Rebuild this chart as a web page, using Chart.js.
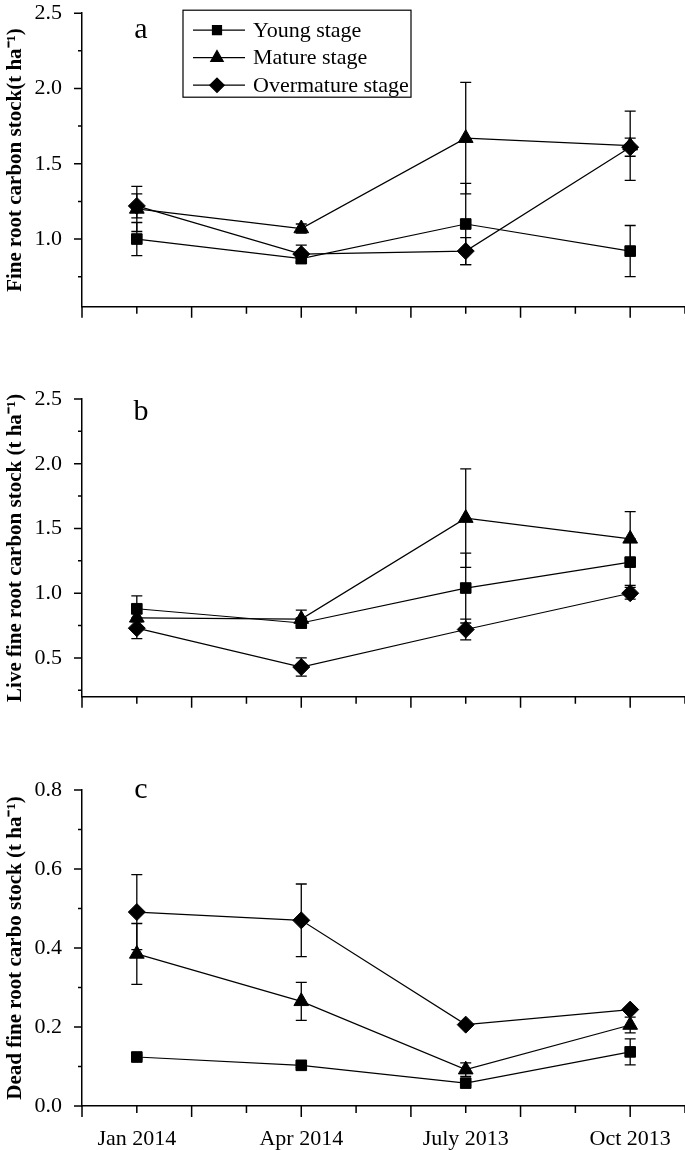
<!DOCTYPE html>
<html>
<head>
<meta charset="utf-8">
<script src="https://cdn.jsdelivr.net/npm/chart.js@4.4.1/dist/chart.umd.min.js"></script>
<style>
  html, body { margin: 0; padding: 0; background: #fff; width: 685px; height: 1150px; overflow: hidden; position: relative; }
  .panel { position: absolute; left: 0; width: 705px; }
</style>
</head>
<body>
<div class="panel" style="top:-20px;height:360px"><canvas id="chartA"></canvas></div>
<div class="panel" style="top:360px;height:370px"><canvas id="chartB"></canvas></div>
<div class="panel" style="top:740px;height:410px"><canvas id="chartC"></canvas></div>
<script>
// sampling dates and where they sit on the x axis
var categories = ['Jan 2014', 'Apr 2014', 'July 2013', 'Oct 2013'];
var xPositions = [1, 4, 7, 10];
var seriesNames = ['Young stage', 'Mature stage', 'Overmature stage'];

// a - fine root carbon stock (t ha-1)
var youngA = [1.00, 0.87, 1.10, 0.92];
var matureA = [1.20, 1.07, 1.67, 1.62];
var overA = [1.22, 0.90, 0.92, 1.61];
var youngAErr = [0.11, 0.02, 0.27, 0.17];
var matureAErr = [0.15, 0.03, 0.37, 0.23];
var overAErr = [0.08, 0.06, 0.09, 0.06];

// b - live fine root carbon stock
var youngB = [0.88, 0.77, 1.04, 1.24];
var matureB = [0.81, 0.80, 1.58, 1.42];
var overB = [0.73, 0.43, 0.72, 1.00];
var youngBErr = [0.10, 0.02, 0.27, 0.18];
var matureBErr = [0.03, 0.07, 0.38, 0.21];
var overBErr = [0.08, 0.07, 0.08, 0.045];

// c - dead fine root carbon stock
var youngC = [0.124, 0.103, 0.058, 0.137];
var matureC = [0.385, 0.265, 0.092, 0.205];
var overC = [0.491, 0.470, 0.206, 0.244];
var youngCErr = [0.005, 0.005, 0.005, 0.033];
var matureCErr = [0.077, 0.048, 0.017, 0.020];
var overCErr = [0.095, 0.092, 0.005, 0.005];

var serif = "'Liberation Serif', 'Times New Roman', serif";
var markers = ['rect', 'triangle', 'rectRot'];
var radii = [7.5, 8.5, 8.5];

function makeDatasets(vals, errs) {
  return vals.map(function (v, k) {
    return {
      label: seriesNames[k],
      data: v.map(function (y, i) { return { x: xPositions[i], y: y }; }),
      errors: errs[k],
      borderColor: '#000',
      borderWidth: 1.2,
      backgroundColor: '#000',
      pointStyle: markers[k],
      pointRadius: radii[k],
      pointBackgroundColor: '#000',
      pointBorderColor: '#000',
      pointBorderWidth: 1,
      tension: 0,
      fill: false
    };
  });
}

// error bars, drawn under the markers
var errorBars = {
  id: 'errorBars',
  beforeDatasetsDraw: function (chart) {
    var ctx = chart.ctx, xs = chart.scales.x, ys = chart.scales.y;
    ctx.save();
    ctx.strokeStyle = '#000';
    ctx.lineWidth = 1.3;
    chart.data.datasets.forEach(function (ds) {
      ds.data.forEach(function (p, i) {
        var e = ds.errors[i];
        var px = xs.getPixelForValue(p.x);
        var top = ys.getPixelForValue(p.y + e), bot = ys.getPixelForValue(p.y - e);
        ctx.beginPath();
        ctx.moveTo(px, top); ctx.lineTo(px, bot);
        ctx.moveTo(px - 5.5, top); ctx.lineTo(px + 5.5, top);
        ctx.moveTo(px - 5.5, bot); ctx.lineTo(px + 5.5, bot);
        ctx.stroke();
      });
    });
    ctx.restore();
  }
};

// tick marks of two lengths, panel letter and the boxed legend
var extras = {
  id: 'extras',
  afterDraw: function (chart, args, opts) {
    var ctx = chart.ctx, xs = chart.scales.x, ys = chart.scales.y, a = chart.chartArea;
    ctx.save();
    ctx.strokeStyle = '#000';
    ctx.fillStyle = '#000';
    ctx.lineWidth = 1.5;
    ctx.beginPath();
    xs.ticks.forEach(function (t) {
      var px = xs.getPixelForValue(t.value);
      var len = t.value % 2 === 0 ? 11 : 7;
      ctx.moveTo(px, a.bottom); ctx.lineTo(px, a.bottom + len);
    });
    ys.ticks.forEach(function (t) {
      var py = ys.getPixelForValue(t.value);
      var r = t.value / opts.major;
      var major = Math.abs(r - Math.round(r)) < 1e-6;
      ctx.moveTo(a.left, py); ctx.lineTo(a.left - (major ? 8 : 4), py);
    });
    ctx.stroke();

    ctx.font = '30px ' + serif;
    ctx.textAlign = 'center';
    ctx.textBaseline = 'alphabetic';
    ctx.fillText(opts.letter, a.left + 59, a.top + opts.letterDy);

    if (opts.legend) {
      var lx = a.left + 101, ly = a.top - 3;
      ctx.lineWidth = 1.2;
      ctx.strokeRect(lx, ly, 228, 87);
      ctx.font = '22px ' + serif;
      ctx.textAlign = 'left';
      ctx.textBaseline = 'middle';
      chart.data.datasets.forEach(function (ds, k) {
        var cy = ly + 20 + k * 27.5;
        ctx.lineWidth = 1.2;
        ctx.beginPath();
        ctx.moveTo(lx + 10, cy); ctx.lineTo(lx + 62, cy);
        ctx.stroke();
        Chart.helpers.drawPoint(ctx, { pointStyle: ds.pointStyle, radius: ds.pointRadius * 0.85, borderWidth: 1 }, lx + 34, cy);
        ctx.fillText(ds.label, lx + 70, cy + 1);
      });
    }
    ctx.restore();
  }
};

function makeChart(id, vals, errs, p) {
  var ctx = document.getElementById(id).getContext('2d');
  return new Chart(ctx, {
    type: 'line',
    data: { datasets: makeDatasets(vals, errs) },
    plugins: [errorBars, extras],
    options: {
      responsive: true,
      maintainAspectRatio: false,
      animation: false,
      events: [],
      layout: { padding: { top: p.padTop, left: 0, right: 1, bottom: p.padBottom } },
      plugins: {
        legend: { display: false },
        tooltip: { enabled: false },
        extras: { letter: p.letter, letterDy: p.letterDy, legend: p.legend, major: p.major }
      },
      scales: {
        x: {
          type: 'linear',
          min: 0,
          max: 11,
          afterFit: function (s) { s.height = p.xHeight; },
          grid: { display: false, drawTicks: false },
          border: { display: true, color: '#000', width: 1.5 },
          ticks: {
            stepSize: 1,
            autoSkip: false,
            maxRotation: 0,
            padding: 20,
            color: '#000',
            font: { family: serif, size: 22 },
            callback: function (v) {
              var i = xPositions.indexOf(v);
              return p.xLabels && i >= 0 ? categories[i] : '';
            }
          }
        },
        y: {
          min: p.min,
          max: p.max,
          afterFit: function (s) { s.width = 82; },
          grid: { display: false, drawTicks: false },
          border: { display: true, color: '#000', width: 1.5 },
          title: {
            display: true,
            text: p.title,
            color: '#000',
            font: { family: serif, size: 21, weight: 'bold' },
            padding: { top: 3, bottom: 0 }
          },
          ticks: {
            stepSize: p.major / 2,
            includeBounds: false,
            autoSkip: false,
            padding: 20,
            color: '#000',
            font: { family: serif, size: 22 },
            callback: function (v) {
              var r = v / p.major;
              return Math.abs(r - Math.round(r)) < 1e-6 ? v.toFixed(1) : '';
            }
          }
        }
      }
    }
  });
}

makeChart('chartA', [youngA, matureA, overA], [youngAErr, matureAErr, overAErr], {
  min: 0.55, max: 2.5, major: 0.5, title: 'Fine root carbon stock(t ha\u207B\u00B9)',
  letter: 'a', letterDy: 25, legend: true, padTop: 28, padBottom: 2, xHeight: 14, xLabels: false
});
makeChart('chartB', [youngB, matureB, overB], [youngBErr, matureBErr, overBErr], {
  min: 0.2, max: 2.5, major: 0.5, title: 'Live fine root carbon stock (t ha\u207B\u00B9)',
  letter: 'b', letterDy: 21, legend: false, padTop: 39, padBottom: 2, xHeight: 14, xLabels: false
});
makeChart('chartC', [youngC, matureC, overC], [youngCErr, matureCErr, overCErr], {
  min: 0, max: 0.8, major: 0.2, title: 'Dead fine root carbo stock (t ha\u207B\u00B9)',
  letter: 'c', letterDy: 8, legend: false, padTop: 50, padBottom: 0, xHeight: 44, xLabels: true
});
</script>
</body>
</html>
